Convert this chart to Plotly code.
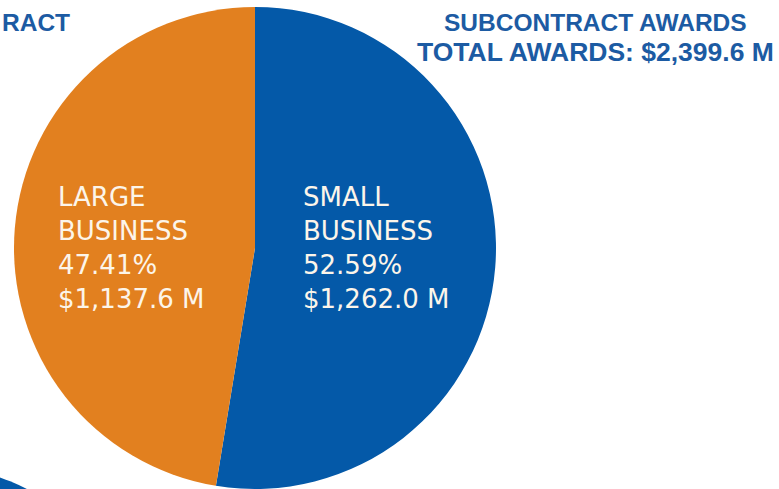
import plotly.graph_objects as go

# ---- data ----
categories = ["SMALL BUSINESS", "LARGE BUSINESS"]
amounts_musd = [1262.0, 1137.6]
percents = [52.59, 47.41]
total_musd = 2399.6
title_lines = ["SUBCONTRACT AWARDS", "TOTAL AWARDS: $%s M" % format(total_musd, ",.1f")]
left_partial_title = "RACT"

colors = ["#0459A8", "#E2801F"]
W, H = 779, 489

fig = go.Figure()
fig.add_trace(go.Pie(
    labels=categories,
    values=amounts_musd,
    sort=False,
    direction="clockwise",
    rotation=0,
    marker=dict(colors=colors, line=dict(width=0)),
    textinfo="none",
    hoverinfo="label+value+percent",
    showlegend=False,
    domain=dict(x=[14 / W, 496 / W], y=[0, 482 / H]),
))

def px_x(x):
    return x / W

def px_y(y):
    return (H - y) / H

annotations = []
# slice labels, one annotation per line
label_left_px = [301, 56]
line_centers_px = [197, 231, 265, 299]
for i, cat in enumerate(categories):
    words = cat.split(" ")
    lines = words + ["%.2f%%" % percents[i], "$%s M" % format(amounts_musd[i], ",.1f")]
    for j, line in enumerate(lines):
        annotations.append(dict(
            text=line, x=px_x(label_left_px[i]), y=px_y(line_centers_px[j]),
            xref="paper", yref="paper", xanchor="left", yanchor="middle",
            showarrow=False,
            font=dict(family="DejaVu Sans", size=26, color="#FCF5EA"),
        ))

# title lines
title_centers_px = [22, 52]
title_sizes = [24.5, 26.5]
for j, line in enumerate(title_lines):
    annotations.append(dict(
        text="<b>%s</b>" % line, x=px_x(595), y=px_y(title_centers_px[j]),
        xref="paper", yref="paper", xanchor="center", yanchor="middle",
        showarrow=False,
        font=dict(family="Liberation Sans", size=title_sizes[j], color="#1C5BA3"),
    ))

annotations.append(dict(
    text="<b>%s</b>" % left_partial_title, x=px_x(0), y=px_y(22),
    xref="paper", yref="paper", xanchor="left", yanchor="middle",
    showarrow=False,
    font=dict(family="Liberation Sans", size=24.5, color="#1C5BA3"),
))

# edge of the neighbouring panel's pie (decorative)
cx, cy, r = -82, 704, 241
shapes = [dict(
    type="circle", xref="paper", yref="paper",
    x0=px_x(cx - r), x1=px_x(cx + r), y0=px_y(cy + r), y1=px_y(cy - r),
    fillcolor="#0459A8", line=dict(width=0), layer="below",
)]

fig.update_layout(
    width=W, height=H,
    margin=dict(l=0, r=0, t=0, b=0),
    paper_bgcolor="white",
    plot_bgcolor="white",
    annotations=annotations,
    shapes=shapes,
)

fig.write_html(
    "out.html",
    config={"displayModeBar": False},
    post_script="document.body.style.margin='0px';document.body.style.overflow='hidden';",
)
